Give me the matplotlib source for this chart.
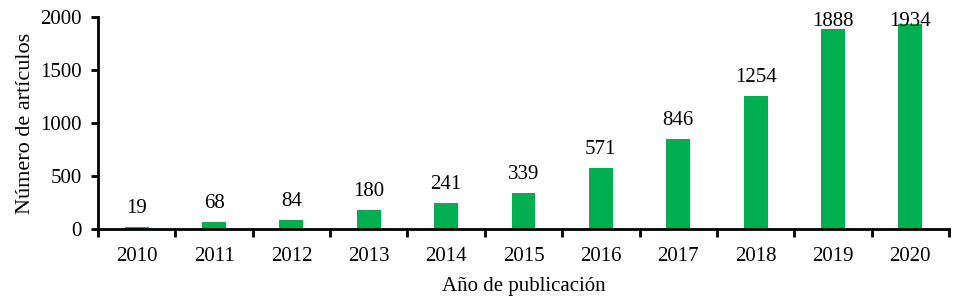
import matplotlib
matplotlib.use("Agg")
from matplotlib import pyplot as plt

years = ["2010", "2011", "2012", "2013", "2014", "2015", "2016", "2017", "2018", "2019", "2020"]
articles = [19, 68, 84, 180, 241, 339, 571, 846, 1254, 1888, 1934]

plt.rcParams['font.family'] = ['Liberation Serif', 'DejaVu Serif']

fig = plt.figure(figsize=(9.58, 3.0), dpi=100)
ax = fig.add_axes([0.1023, 0.2367, 0.8883, 0.7066])

x_values = range(len(years))
bars = ax.bar(x_values, articles, width=0.31, color='#00B050')

# labels sit ~14 px above the bars, but are kept inside the plot area (like Excel)
label_gap = 132
label_max = 1915
for x, v in zip(x_values, articles):
    ax.text(x, min(v + label_gap, label_max), str(v), ha='center', va='baseline',
            fontsize=15, clip_on=False)

ax.set_xlim(-0.5, len(years) - 0.5)
ax.set_ylim(0, 2000)
ax.set_yticks([0, 500, 1000, 1500, 2000])
ax.set_xticks(list(x_values))
ax.set_xticklabels(years)
ax.set_xticks([i - 0.5 for i in range(len(years) + 1)], minor=True)
ax.tick_params(axis='x', which='major', length=0, labelsize=15, pad=13)
ax.tick_params(axis='x', which='minor', length=6, width=2, direction='out')
ax.tick_params(axis='y', length=5, width=2, direction='out', labelsize=15, pad=6.5)

for side in ['top', 'right']:
    ax.spines[side].set_visible(False)
for side in ['left', 'bottom']:
    ax.spines[side].set_linewidth(2)

ax.set_xlabel('Año de publicación', fontsize=15, labelpad=8)
ax.set_ylabel('Número de artículos', fontsize=16, labelpad=4)

fig.savefig('out.png', dpi=100)
